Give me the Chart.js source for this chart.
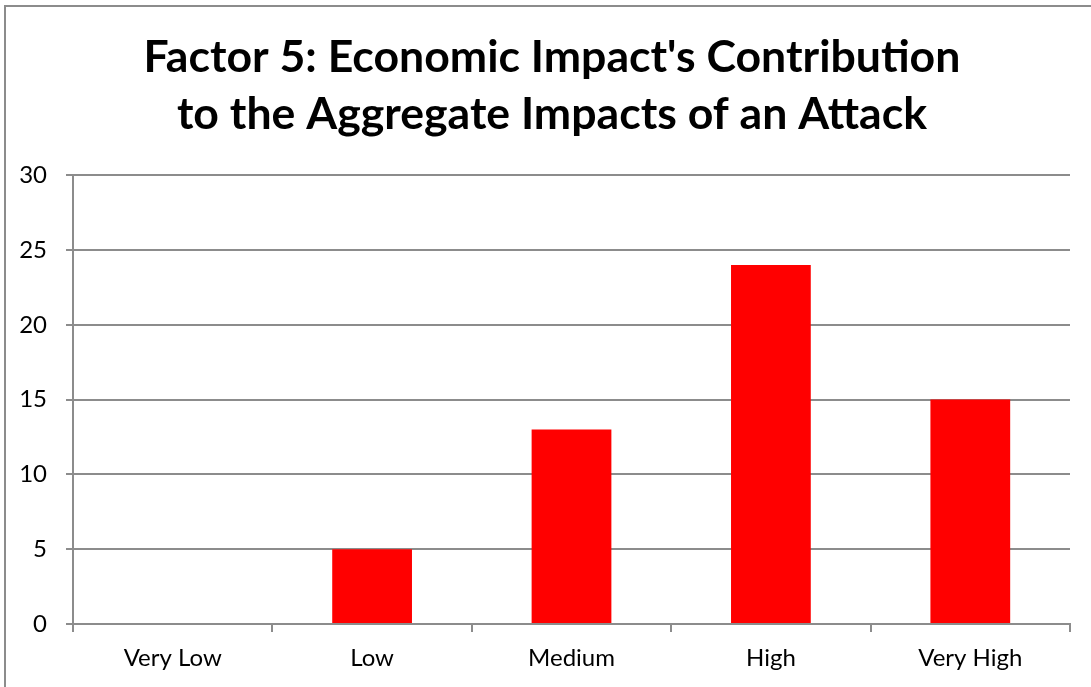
<!DOCTYPE html>
<html>
<head>
<meta charset="utf-8">
<script src="https://cdn.jsdelivr.net/npm/chart.js@4/dist/chart.umd.min.js"></script>
<style>
  html, body { margin: 0; padding: 0; background: #fff; overflow: hidden; }
  #frame { position: absolute; left: 4px; top: 5px; width: 1200px; height: 800px; border-left: 2px solid #8c8c8c; border-top: 2px solid #8c8c8c; }
  #wrap { position: absolute; left: 0; top: 0; width: 1091px; height: 687px; }
</style>
</head>
<body>
<div id="frame"></div>
<div id="wrap"><canvas id="c" width="1091" height="687"></canvas></div>
<script>
const categories = ["Very Low", "Low", "Medium", "High", "Very High"];
const values = [0, 5, 13, 24, 15];
const yTicks = [0, 5, 10, 15, 20, 25, 30];
const titleLines = ["Factor 5: Economic Impact's Contribution", "to the Aggregate Impacts of an Attack"];

const FONT = "Lato, 'Open Sans', sans-serif";

new Chart(document.getElementById('c'), {
  type: 'bar',
  data: {
    labels: categories,
    datasets: [{
      data: values,
      backgroundColor: '#ff0000',
      borderWidth: 0,
      barPercentage: 0.4,
      categoryPercentage: 1.0
    }]
  },
  options: {
    responsive: false,
    animation: false,
    layout: { padding: { left: 13, right: 0, top: 0, bottom: 0 } },
    plugins: {
      legend: { display: false },
      tooltip: { enabled: false },
      title: {
        display: true,
        text: titleLines,
        color: '#000',
        font: { family: FONT, size: 44.6, weight: 'bold', lineHeight: 1.28 },
        padding: { top: 29, bottom: 32 }
      }
    },
    scales: {
      x: {
        offset: true,
        grid: { display: true, offset: true, drawOnChartArea: false, drawTicks: true, tickLength: 8, color: '#8c8c8c', lineWidth: 2 },
        border: { display: true, color: '#8c8c8c', width: 2 },
        ticks: { color: '#000', font: { family: FONT, size: 24 }, padding: 12 },
        afterFit: (s) => { s.height = 63; }
      },
      y: {
        min: 0, max: 30,
        afterBuildTicks: (s) => { s.ticks = yTicks.map(v => ({ value: v })); },
        grid: { color: '#8c8c8c', lineWidth: 2, tickLength: 7 },
        border: { display: true, color: '#8c8c8c', width: 2 },
        ticks: { color: '#000', font: { family: FONT, size: 24 }, padding: 19 },
        afterFit: (s) => { s.width = 60; }
      },
      yRight: {
        type: 'linear',
        position: 'right',
        display: true,
        grid: { display: false, drawTicks: false },
        border: { display: false },
        ticks: { display: false },
        afterFit: (s) => { s.width = 21; }
      }
    }
  }
});
</script>
</body>
</html>
